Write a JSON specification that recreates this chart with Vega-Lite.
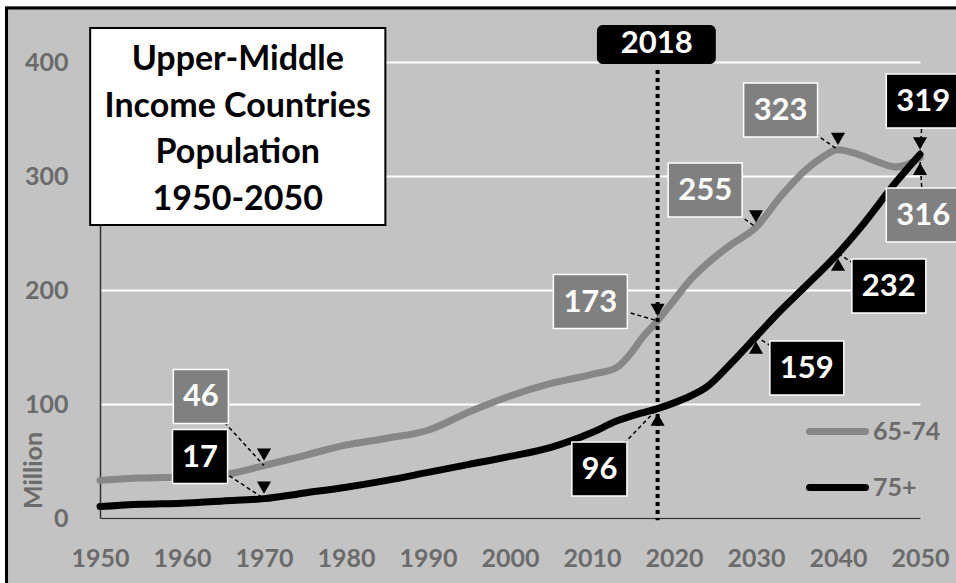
{
  "$schema": "https://vega.github.io/schema/vega-lite/v6.json",
  "width": 820,
  "height": 456,
  "autosize": "none",
  "padding": {"left": 100, "top": 62, "right": 36, "bottom": 65},
  "background": "#c3c3c3",
  "config": {
    "view": {"stroke": null},
    "font": "Lato",
    "legend": {
      "orient": "none",
      "legendX": 706,
      "legendY": 338,
      "direction": "vertical",
      "title": null,
      "padding": 0,
      "symbolType": "stroke",
      "symbolSize": 3136,
      "symbolStrokeWidth": 7,
      "labelFont": "Lato",
      "labelFontSize": 25,
      "labelFontWeight": "bold",
      "labelColor": "#6b6b6b",
      "labelOffset": 4,
      "rowPadding": 10
    }
  },
  "datasets": {
    "pop": [
      {"series": "65-74", "year": 1950, "value": 33},
      {"series": "65-74", "year": 1955, "value": 35},
      {"series": "65-74", "year": 1960, "value": 36},
      {"series": "65-74", "year": 1965, "value": 38},
      {"series": "65-74", "year": 1970, "value": 46},
      {"series": "65-74", "year": 1975, "value": 55},
      {"series": "65-74", "year": 1980, "value": 64},
      {"series": "65-74", "year": 1985, "value": 70},
      {"series": "65-74", "year": 1990, "value": 77},
      {"series": "65-74", "year": 1995, "value": 93},
      {"series": "65-74", "year": 2000, "value": 107},
      {"series": "65-74", "year": 2005, "value": 118},
      {"series": "65-74", "year": 2010, "value": 126},
      {"series": "65-74", "year": 2013, "value": 132},
      {"series": "65-74", "year": 2015, "value": 147},
      {"series": "65-74", "year": 2016, "value": 157},
      {"series": "65-74", "year": 2018, "value": 173},
      {"series": "65-74", "year": 2020, "value": 191},
      {"series": "65-74", "year": 2022, "value": 209},
      {"series": "65-74", "year": 2025, "value": 229},
      {"series": "65-74", "year": 2027, "value": 240},
      {"series": "65-74", "year": 2030, "value": 255},
      {"series": "65-74", "year": 2033, "value": 282},
      {"series": "65-74", "year": 2036, "value": 305},
      {"series": "65-74", "year": 2038, "value": 316},
      {"series": "65-74", "year": 2040, "value": 323},
      {"series": "65-74", "year": 2042, "value": 320},
      {"series": "65-74", "year": 2045, "value": 312},
      {"series": "65-74", "year": 2047, "value": 308},
      {"series": "65-74", "year": 2048, "value": 309},
      {"series": "65-74", "year": 2050, "value": 316},
      {"series": "75+", "year": 1950, "value": 10},
      {"series": "75+", "year": 1955, "value": 12},
      {"series": "75+", "year": 1960, "value": 13},
      {"series": "75+", "year": 1965, "value": 15},
      {"series": "75+", "year": 1970, "value": 17},
      {"series": "75+", "year": 1975, "value": 22},
      {"series": "75+", "year": 1980, "value": 27},
      {"series": "75+", "year": 1985, "value": 33},
      {"series": "75+", "year": 1990, "value": 40},
      {"series": "75+", "year": 1995, "value": 47},
      {"series": "75+", "year": 2000, "value": 54},
      {"series": "75+", "year": 2005, "value": 62},
      {"series": "75+", "year": 2010, "value": 75},
      {"series": "75+", "year": 2013, "value": 85},
      {"series": "75+", "year": 2016, "value": 92},
      {"series": "75+", "year": 2018, "value": 96},
      {"series": "75+", "year": 2020, "value": 101},
      {"series": "75+", "year": 2022, "value": 107},
      {"series": "75+", "year": 2024, "value": 115},
      {"series": "75+", "year": 2027, "value": 136},
      {"series": "75+", "year": 2030, "value": 159},
      {"series": "75+", "year": 2033, "value": 182},
      {"series": "75+", "year": 2036, "value": 203},
      {"series": "75+", "year": 2040, "value": 232},
      {"series": "75+", "year": 2043, "value": 257},
      {"series": "75+", "year": 2047, "value": 294},
      {"series": "75+", "year": 2050, "value": 319}
    ],
    "notes": [
      {"series": "65-74", "year": 1970, "value": 46, "label": "46", "lyear": 1962.3, "lval": 106.6},
      {"series": "75+", "year": 1970, "value": 17, "label": "17", "lyear": 1962.2, "lval": 53.9},
      {"series": "65-74", "year": 2018, "value": 173, "label": "173", "lyear": 2009.8, "lval": 189.9},
      {"series": "65-74", "year": 2030, "value": 255, "label": "255", "lyear": 2023.8, "lval": 287.7},
      {"series": "65-74", "year": 2040, "value": 323, "label": "323", "lyear": 2033.0, "lval": 357.9},
      {"series": "75+", "year": 2050, "value": 319, "label": "319", "lyear": 2050.4, "lval": 365.8},
      {"series": "65-74", "year": 2050, "value": 316, "label": "316", "lyear": 2050.4, "lval": 265.8},
      {"series": "75+", "year": 2040, "value": 232, "label": "232", "lyear": 2046.2, "lval": 203.5},
      {"series": "75+", "year": 2030, "value": 159, "label": "159", "lyear": 2036.2, "lval": 131.6},
      {"series": "75+", "year": 2018, "value": 96, "label": "96", "lyear": 2010.9, "lval": 43.0}
    ]
  },
  "layer": [
    {
      "data": {"name": "pop"},
      "mark": {"type": "line", "strokeWidth": 7, "interpolate": "monotone", "strokeCap": "round", "clip": false},
      "encoding": {
        "x": {
          "field": "year", "type": "quantitative",
          "scale": {"domain": [1950, 2050], "nice": false, "zero": false},
          "axis": {
            "title": null,
            "values": [1950, 1960, 1970, 1980, 1990, 2000, 2010, 2020, 2030, 2040, 2050],
            "format": "d",
            "grid": false,
            "ticks": false,
            "domainColor": "#333333",
            "domainWidth": 1.5,
            "labelFont": "Lato",
            "labelFontSize": 25,
            "labelFontWeight": "bold",
            "labelColor": "#6b6b6b",
            "labelPadding": 28,
            "labelFlush": false,
            "labelOverlap": false
          }
        },
        "y": {
          "field": "value", "type": "quantitative",
          "scale": {"domain": [0, 400], "nice": false},
          "axis": {
            "title": "Million",
            "values": [0, 100, 200, 300, 400],
            "grid": true,
            "gridColor": "#ffffff",
            "gridWidth": 2,
            "ticks": false,
            "domainColor": "#333333",
            "domainWidth": 1.5,
            "labelFont": "Lato",
            "labelFontSize": 25,
            "labelFontWeight": "bold",
            "labelColor": "#6b6b6b",
            "labelPadding": 32,
            "labelFlush": false,
            "titleFont": "Lato",
            "titleFontSize": 25,
            "titleFontWeight": "bold",
            "titleColor": "#6b6b6b",
            "titleAngle": -90,
            "titleX": -67,
            "titleY": 408,
            "titleAlign": "center",
            "titleBaseline": "middle"
          }
        },
        "color": {
          "field": "series", "type": "nominal",
          "scale": {"domain": ["65-74", "75+"], "range": ["#878787", "#000000"]},
          "legend": {"encode": {"symbols": {"update": {"strokeCap": {"value": "round"}}}}}
        }
      }
    },
    {
      "data": {"values": [{}]},
      "mark": {"type": "rect", "fill": null, "stroke": "#ffffff", "strokeWidth": 10, "clip": false},
      "encoding": {
        "x": {"datum": 1937.8}, "x2": {"datum": 2065},
        "y": {"datum": 453.5}, "y2": {"datum": -70}
      }
    },
    {
      "data": {"values": [{}]},
      "mark": {"type": "rect", "fill": null, "stroke": "#000000", "strokeWidth": 3, "clip": false},
      "encoding": {
        "x": {"datum": 1938.6}, "x2": {"datum": 2065},
        "y": {"datum": 447.4}, "y2": {"datum": -70}
      }
    },
    {
      "data": {"values": [{}]},
      "mark": {"type": "rect", "fill": "#ffffff", "stroke": "#000000", "strokeWidth": 2, "clip": false},
      "encoding": {
        "x": {"datum": 1948.8}, "x2": {"datum": 1984.8},
        "y": {"datum": 429.8}, "y2": {"datum": 257.0}
      }
    },
    {
      "data": {"values": [{}]},
      "mark": {
        "type": "text", "font": "Lato", "fontSize": 34, "fontWeight": "bold", "color": "#000000",
        "align": "center", "baseline": "middle", "lineHeight": 46.5, "clip": false
      },
      "encoding": {
        "x": {"datum": 1966.8},
        "y": {"datum": 401.5},
        "text": {"value": ["Upper-Middle", "Income Countries", "Population", "1950-2050"]}
      }
    },
    {
      "data": {"values": [{}]},
      "mark": {"type": "rule", "color": "#000000", "strokeWidth": 4, "strokeDash": [4, 4], "clip": false},
      "encoding": {
        "x": {"datum": 2018},
        "y": {"datum": 393}, "y2": {"datum": -2}
      }
    },
    {
      "data": {"values": [{}]},
      "mark": {"type": "rect", "fill": "#000000", "cornerRadius": 6, "clip": false},
      "encoding": {
        "x": {"datum": 2010.6}, "x2": {"datum": 2025.1},
        "y": {"datum": 432.5}, "y2": {"datum": 398.2}
      }
    },
    {
      "data": {"values": [{}]},
      "mark": {"type": "text", "font": "Lato", "fontSize": 31, "fontWeight": "bold", "color": "#ffffff", "align": "center", "baseline": "middle", "clip": false},
      "encoding": {
        "x": {"datum": 2017.9},
        "y": {"datum": 415.5},
        "text": {"value": "2018"}
      }
    },
    {
      "data": {"name": "notes"},
      "mark": {"type": "rule", "color": "#000000", "strokeWidth": 1.5, "strokeDash": [4, 3], "clip": false},
      "encoding": {
        "x": {"field": "lyear", "type": "quantitative"},
        "y": {"field": "lval", "type": "quantitative"},
        "x2": {"field": "year"},
        "y2": {"field": "value"}
      }
    },
    {
      "data": {"name": "notes"},
      "transform": [{"filter": "datum.lval > datum.value"}],
      "mark": {"type": "point", "shape": "triangle-down", "filled": true, "color": "#000000", "size": 200, "opacity": 1, "yOffset": -11, "clip": false},
      "encoding": {
        "x": {"field": "year", "type": "quantitative"},
        "y": {"field": "value", "type": "quantitative"}
      }
    },
    {
      "data": {"name": "notes"},
      "transform": [{"filter": "datum.lval < datum.value"}],
      "mark": {"type": "point", "shape": "triangle-up", "filled": true, "color": "#000000", "size": 200, "opacity": 1, "yOffset": 11, "clip": false},
      "encoding": {
        "x": {"field": "year", "type": "quantitative"},
        "y": {"field": "value", "type": "quantitative"}
      }
    },
    {
      "data": {"name": "notes"},
      "mark": {"type": "point", "filled": true, "size": 2916, "opacity": 1, "stroke": "#ffffff", "strokeWidth": 1.5, "strokeOpacity": 1, "clip": false},
      "encoding": {
        "x": {"field": "lyear", "type": "quantitative"},
        "y": {"field": "lval", "type": "quantitative"},
        "shape": {
          "condition": {"test": "length(datum.label) > 2", "value": "M-1.37,-1H1.37V1H-1.37Z"},
          "value": "M-1.02,-1H1.02V1H-1.02Z"
        },
        "fill": {
          "field": "series", "type": "nominal",
          "scale": {"domain": ["65-74", "75+"], "range": ["#808080", "#000000"]},
          "legend": null
        }
      }
    },
    {
      "data": {"name": "notes"},
      "mark": {"type": "text", "font": "Lato", "fontSize": 31, "fontWeight": "bold", "color": "#ffffff", "align": "center", "baseline": "middle", "dy": 1, "clip": false},
      "encoding": {
        "x": {"field": "lyear", "type": "quantitative"},
        "y": {"field": "lval", "type": "quantitative"},
        "text": {"field": "label"}
      }
    }
  ]
}
